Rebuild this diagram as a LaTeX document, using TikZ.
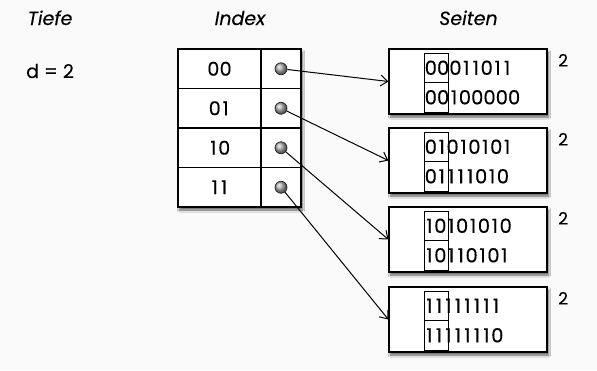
\documentclass[tikz,border=0pt]{standalone}
\usepackage{fontspec}
\setmainfont{Poppins}[FakeBold=0.25]
\usetikzlibrary{arrows.meta,shadows.blur}
\definecolor{bg}{gray}{0.98}
\def\bitrow#1{\expandafter\bitloop#1\relax}
\def\bitloop#1{\ifx#1\relax\else\ifx#10\makebox[12.3pt][c]{0}\else\makebox[9.5pt][c]{1}\fi\expandafter\bitloop\fi}
\tikzset{
  shadowed/.style={blur shadow={shadow xshift=1.5pt,shadow yshift=-3pt,shadow blur steps=6,shadow opacity=60}},
  tblbox/.style={draw,fill=white,line width=1.2pt,minimum width=123pt,minimum height=158pt,inner sep=0,shadowed},
  keycell/.style={draw,line width=1.2pt,minimum width=83pt,minimum height=39.5pt,inner sep=0,font=\fontsize{19}{22}\selectfont},
  ptrcell/.style={draw,line width=1.2pt,minimum width=40pt,minimum height=39.5pt,inner sep=0},
  dot/.style={circle,inner sep=0,minimum size=12pt,shading=ball,ball color=gray!65,draw=black!85,line width=0.7pt},
  pagebox/.style={draw,fill=white,line width=1.2pt,minimum width=158pt,minimum height=65pt,inner sep=0,shadowed},
  bracket/.style={draw,line width=0.9pt,minimum width=23.5pt,minimum height=29.5pt,inner sep=0},
  bits/.style={anchor=west,inner sep=0,font=\fontsize{19.5}{23}\selectfont},
  head/.style={anchor=base,inner sep=0,font=\itshape\fontsize{19}{22}\selectfont},
  depth/.style={anchor=base west,inner sep=0,font=\fontsize{19}{22}\selectfont},
  locdepth/.style={anchor=base west,inner sep=0,font=\fontsize{17}{20}\selectfont},
  ptr/.style={line width=1pt,-{Straight Barb[length=7pt,width=11pt]}}
}
\begin{document}
\begin{tikzpicture}[x=1pt,y=-1pt]
\path[use as bounding box,fill=bg] (0,0) rectangle (597,370);
% headers
\node[head] (hT) at (50,25) {Tiefe};
\node[head] (hI) at (240,25) {Index};
\node[head] (hS) at (468.5,25) {Seiten};
\node[depth] (dd) at (26,78) {d = 2};
% index table
\node[tblbox] (tbl) at (239.5,128) {};
\foreach \i/\k in {0/00,1/01,2/10,3/11}{
  \node[keycell] (k\i) at (219.5,68.75+39.5*\i) {\bitrow{\k}};
  \node[ptrcell] (p\i) at (281,68.75+39.5*\i) {};
  \node[dot] (d\i) at (281,68.75+39.5*\i) {};
}
% pages
\foreach \i/\t/\a/\b in {0/49/00011011/00100000,1/128/01010101/01111010,2/207/10101010/10110101,3/287/11111111/11111110}{
  \node[pagebox] (s\i) at (468,\t+32.5) {};
  \node[bracket] (ba\i) at (436.25,\t+18.75) {};
  \node[bracket] (bb\i) at (436.25,\t+48.25) {};
  \node[bits] (ta\i) at (424.5,\t+18.75) {\bitrow{\a}};
  \node[bits] (tb\i) at (424.5,\t+48.25) {\bitrow{\b}};
  \node[locdepth] (l\i) at (558,\t+17.5) {2};
  \draw[ptr] (d\i) -- (s\i.west);
}
\end{tikzpicture}
\end{document}
